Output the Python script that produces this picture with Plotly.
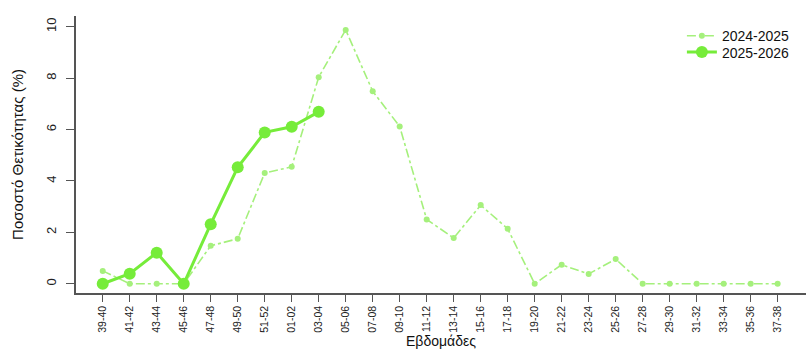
import plotly.graph_objects as go

weeks = ["39-40", "41-42", "43-44", "45-46", "47-48", "49-50", "51-52", "01-02", "03-04",
         "05-06", "07-08", "09-10", "11-12", "13-14", "15-16", "17-18", "19-20", "21-22",
         "23-24", "25-26", "27-28", "29-30", "31-32", "33-34", "35-36", "37-38"]
season_2024_2025 = [0.5, 0.0, 0.0, 0.0, 1.48, 1.75, 4.31, 4.55, 8.04, 9.88, 7.49, 6.12, 2.5,
                    1.78, 3.06, 2.14, 0.0, 0.74, 0.38, 0.96, 0.0, 0.0, 0.0, 0.0, 0.0, 0.0]
season_2025_2026 = [0.0, 0.39, 1.21, 0.0, 2.32, 4.53, 5.89, 6.11, 6.69]
yticks = [0, 2, 4, 6, 8, 10]

light = "#A5F07C"
bright = "#76EC3A"
axis_col = "#555555"
font = "Liberation Sans, Arial, sans-serif"

fig = go.Figure()
fig.add_trace(go.Scatter(
    x=weeks, y=season_2024_2025, name="2024-2025", mode="lines+markers",
    line=dict(color=light, width=1.6, dash="dashdot"),
    marker=dict(color=light, size=6),
    legend="legend",
))
fig.add_trace(go.Scatter(
    x=weeks[:len(season_2025_2026)], y=season_2025_2026, name="2025-2026", mode="lines+markers",
    line=dict(color=bright, width=3),
    marker=dict(color=bright, size=12),
    legend="legend2",
))

leg_common = dict(xanchor="left", yanchor="top", bgcolor="rgba(0,0,0,0)", itemwidth=30,
                  font=dict(size=14, family=font, color="#111111"))

fig.update_layout(
    width=806, height=354,
    margin=dict(l=76, r=0, t=16, b=61),
    paper_bgcolor="white", plot_bgcolor="white",
    font=dict(family=font, color="#222222"),
    showlegend=True,
    legend=dict(x=0.83, y=0.985, **leg_common),
    legend2=dict(x=0.83, y=0.926, **leg_common),
    xaxis=dict(
        type="category", categoryorder="array", categoryarray=weeks,
        range=[-0.99, 26.05],
        showline=True, linecolor=axis_col, linewidth=1.5, mirror=False,
        showgrid=False, zeroline=False,
        ticks="outside", ticklen=7, tickcolor=axis_col, tickwidth=1,
        tickangle=-90, tickfont=dict(size=10.5, family=font, color="#222222"),
        title=dict(text="Εβδομάδες", font=dict(size=14, family=font, color="#111111"), standoff=4),
        automargin=False,
    ),
    yaxis=dict(
        range=[-0.36, 10.42],
        tickvals=yticks, ticktext=[str(v) for v in yticks],
        showline=True, linecolor=axis_col, linewidth=1.5, mirror=False,
        showgrid=False, zeroline=False,
        ticks="outside", ticklen=8, tickcolor=axis_col, tickwidth=1,
        ticklabelstandoff=5,
        tickangle=-90, tickfont=dict(size=13, family=font, color="#222222"),
        title=dict(text="Ποσοστό Θετικότητας (%)", font=dict(size=15, family=font, color="#111111"), standoff=17),
        automargin=False,
    ),
)

fig.write_html("out.html")
